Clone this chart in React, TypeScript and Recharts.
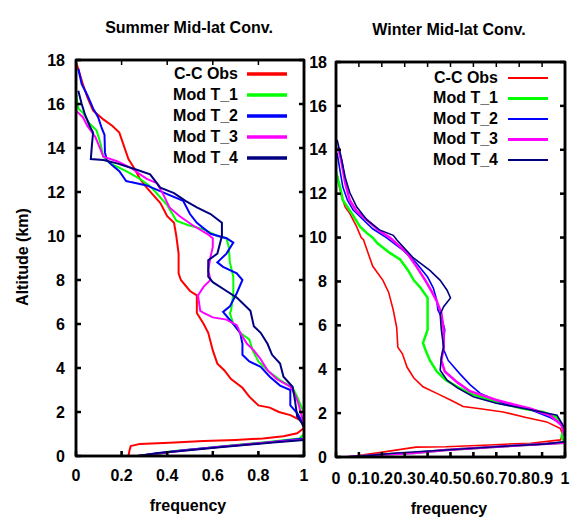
import React from 'react';
import { LineChart, Line, XAxis, YAxis, Legend } from 'recharts';

// ---------- data (frequency f vs altitude h in km) ----------
const seriesNames = ['C-C Obs', 'Mod T_1', 'Mod T_2', 'Mod T_3', 'Mod T_4'];
const seriesColors = ['#ff0000', '#00ff00', '#0000ff', '#ff00ff', '#000080'];

const summerFreqTicks = [0, 0.2, 0.4, 0.6, 0.8, 1];
const winterFreqTicks = [0, 0.1, 0.2, 0.3, 0.4, 0.5, 0.6, 0.7, 0.8, 0.9, 1];
const altitudeTicks = [0, 2, 4, 6, 8, 10, 12, 14, 16, 18];

const summerObs = [
  { f: 0.0, h: 17.9 }, { f: 0.01, h: 17.6 }, { f: 0.03, h: 16.9 }, { f: 0.05, h: 16.3 }, { f: 0.075, h: 15.7 },
  { f: 0.12, h: 15.3 }, { f: 0.16, h: 15.0 }, { f: 0.19, h: 14.7 }, { f: 0.21, h: 14.1 }, { f: 0.23, h: 13.5 },
  { f: 0.26, h: 13.0 }, { f: 0.28, h: 12.6 }, { f: 0.31, h: 12.2 }, { f: 0.37, h: 11.5 }, { f: 0.4, h: 10.9 },
  { f: 0.43, h: 10.6 }, { f: 0.44, h: 10.0 }, { f: 0.45, h: 9.2 }, { f: 0.45, h: 8.3 }, { f: 0.46, h: 8.0 },
  { f: 0.5, h: 7.5 }, { f: 0.53, h: 7.3 }, { f: 0.53, h: 6.5 }, { f: 0.56, h: 6.0 }, { f: 0.58, h: 5.6 },
  { f: 0.6, h: 4.8 }, { f: 0.62, h: 4.2 }, { f: 0.65, h: 3.9 }, { f: 0.68, h: 3.5 }, { f: 0.73, h: 3.1 },
  { f: 0.76, h: 2.7 }, { f: 0.8, h: 2.3 }, { f: 0.85, h: 2.2 }, { f: 0.89, h: 2.0 }, { f: 0.94, h: 1.86 },
  { f: 0.99, h: 1.6 }, { f: 1.0, h: 1.27 }, { f: 0.97, h: 1.03 }, { f: 0.91, h: 0.9 }, { f: 0.82, h: 0.8 },
  { f: 0.7, h: 0.73 }, { f: 0.56, h: 0.68 }, { f: 0.41, h: 0.6 }, { f: 0.28, h: 0.55 }, { f: 0.24, h: 0.45 },
  { f: 0.235, h: 0.27 }, { f: 0.23, h: 0.0 },
];
const summerT1 = [
  { f: 0.0, h: 16.5 }, { f: 0.01, h: 15.8 }, { f: 0.03, h: 15.6 }, { f: 0.06, h: 15.1 }, { f: 0.09, h: 14.8 },
  { f: 0.105, h: 14.3 }, { f: 0.12, h: 13.6 }, { f: 0.15, h: 13.3 }, { f: 0.22, h: 12.95 }, { f: 0.28, h: 12.6 },
  { f: 0.32, h: 12.3 }, { f: 0.34, h: 12.1 }, { f: 0.4, h: 11.4 }, { f: 0.44, h: 10.7 }, { f: 0.49, h: 10.5 },
  { f: 0.56, h: 10.3 }, { f: 0.62, h: 10.0 }, { f: 0.66, h: 9.9 }, { f: 0.67, h: 9.5 }, { f: 0.675, h: 8.8 },
  { f: 0.69, h: 8.15 }, { f: 0.69, h: 7.4 }, { f: 0.68, h: 6.6 }, { f: 0.675, h: 6.5 }, { f: 0.69, h: 6.0 },
  { f: 0.72, h: 5.6 }, { f: 0.76, h: 5.3 }, { f: 0.775, h: 4.8 }, { f: 0.8, h: 4.3 }, { f: 0.85, h: 3.8 },
  { f: 0.895, h: 3.45 }, { f: 0.95, h: 3.1 }, { f: 0.97, h: 2.7 }, { f: 0.99, h: 2.2 }, { f: 1.0, h: 1.95 },
  { f: 1.0, h: 1.0 }, { f: 0.98, h: 0.8 }, { f: 0.85, h: 0.65 }, { f: 0.7, h: 0.5 }, { f: 0.56, h: 0.35 },
  { f: 0.41, h: 0.2 }, { f: 0.37, h: 0.1 }, { f: 0.27, h: 0.0 },
];
const summerT2 = [
  { f: 0.01, h: 17.6 }, { f: 0.025, h: 16.9 }, { f: 0.05, h: 16.4 }, { f: 0.075, h: 15.8 }, { f: 0.097, h: 15.4 },
  { f: 0.113, h: 14.9 }, { f: 0.125, h: 14.6 }, { f: 0.127, h: 13.8 }, { f: 0.135, h: 13.45 }, { f: 0.16, h: 13.2 },
  { f: 0.19, h: 12.95 }, { f: 0.22, h: 12.5 }, { f: 0.24, h: 12.45 }, { f: 0.31, h: 12.3 }, { f: 0.4, h: 11.9 },
  { f: 0.47, h: 11.6 }, { f: 0.5, h: 11.0 }, { f: 0.53, h: 10.6 }, { f: 0.59, h: 10.1 }, { f: 0.66, h: 9.9 },
  { f: 0.69, h: 9.7 }, { f: 0.66, h: 9.2 }, { f: 0.62, h: 8.8 }, { f: 0.645, h: 8.6 }, { f: 0.705, h: 8.3 },
  { f: 0.73, h: 8.0 }, { f: 0.705, h: 7.4 }, { f: 0.675, h: 6.8 }, { f: 0.645, h: 6.55 }, { f: 0.69, h: 6.0 },
  { f: 0.72, h: 5.6 }, { f: 0.73, h: 5.1 }, { f: 0.73, h: 4.6 }, { f: 0.76, h: 4.3 }, { f: 0.81, h: 4.05 },
  { f: 0.85, h: 3.6 }, { f: 0.895, h: 3.2 }, { f: 0.94, h: 3.0 }, { f: 0.94, h: 2.3 }, { f: 0.97, h: 1.95 },
  { f: 0.99, h: 1.6 }, { f: 1.0, h: 1.3 }, { f: 1.0, h: 0.8 }, { f: 0.85, h: 0.62 }, { f: 0.63, h: 0.42 },
  { f: 0.46, h: 0.25 }, { f: 0.36, h: 0.12 }, { f: 0.27, h: 0.0 },
];
const summerT3 = [
  { f: 0.0, h: 15.7 }, { f: 0.03, h: 15.4 }, { f: 0.05, h: 15.0 }, { f: 0.085, h: 14.5 }, { f: 0.105, h: 14.0 },
  { f: 0.12, h: 13.6 }, { f: 0.18, h: 13.4 }, { f: 0.24, h: 13.1 }, { f: 0.31, h: 12.6 }, { f: 0.355, h: 12.4 },
  { f: 0.38, h: 11.95 }, { f: 0.41, h: 11.3 }, { f: 0.455, h: 10.9 }, { f: 0.51, h: 10.5 }, { f: 0.575, h: 10.1 },
  { f: 0.6, h: 9.9 }, { f: 0.6, h: 9.5 }, { f: 0.59, h: 9.05 }, { f: 0.58, h: 8.45 }, { f: 0.59, h: 8.0 },
  { f: 0.56, h: 7.7 }, { f: 0.535, h: 7.3 }, { f: 0.545, h: 6.6 }, { f: 0.56, h: 6.5 }, { f: 0.6, h: 6.3 },
  { f: 0.66, h: 6.2 }, { f: 0.705, h: 5.95 }, { f: 0.72, h: 5.6 }, { f: 0.75, h: 5.1 }, { f: 0.78, h: 4.8 },
  { f: 0.81, h: 4.4 }, { f: 0.84, h: 3.9 }, { f: 0.88, h: 3.5 }, { f: 0.94, h: 3.15 }, { f: 0.96, h: 2.8 },
  { f: 0.975, h: 2.4 }, { f: 0.99, h: 1.8 }, { f: 1.0, h: 1.4 }, { f: 1.0, h: 0.75 }, { f: 0.85, h: 0.62 },
  { f: 0.65, h: 0.43 }, { f: 0.47, h: 0.25 }, { f: 0.37, h: 0.12 }, { f: 0.27, h: 0.0 },
];
const summerT4 = [
  { f: 0.01, h: 16.6 }, { f: 0.025, h: 16.0 }, { f: 0.04, h: 15.5 }, { f: 0.06, h: 15.0 }, { f: 0.075, h: 14.7 },
  { f: 0.07, h: 14.15 }, { f: 0.065, h: 13.5 }, { f: 0.12, h: 13.45 }, { f: 0.18, h: 13.3 }, { f: 0.27, h: 13.0 },
  { f: 0.325, h: 12.8 }, { f: 0.37, h: 12.2 }, { f: 0.43, h: 11.95 }, { f: 0.48, h: 11.6 }, { f: 0.53, h: 11.3 },
  { f: 0.59, h: 11.0 }, { f: 0.64, h: 10.6 }, { f: 0.64, h: 10.0 }, { f: 0.62, h: 9.2 }, { f: 0.58, h: 8.9 },
  { f: 0.58, h: 8.15 }, { f: 0.6, h: 7.9 }, { f: 0.66, h: 7.5 }, { f: 0.705, h: 7.2 }, { f: 0.765, h: 6.6 },
  { f: 0.78, h: 5.9 }, { f: 0.81, h: 5.6 }, { f: 0.84, h: 5.1 }, { f: 0.86, h: 4.6 }, { f: 0.895, h: 4.2 },
  { f: 0.91, h: 3.6 }, { f: 0.95, h: 3.15 }, { f: 0.96, h: 2.55 }, { f: 0.97, h: 1.8 }, { f: 0.99, h: 1.5 },
  { f: 1.0, h: 1.3 }, { f: 1.0, h: 0.73 }, { f: 0.85, h: 0.6 }, { f: 0.63, h: 0.4 }, { f: 0.46, h: 0.23 },
  { f: 0.36, h: 0.14 }, { f: 0.27, h: 0.0 },
];

const winterObs = [
  { f: 0.005, h: 12.85 }, { f: 0.015, h: 12.3 }, { f: 0.025, h: 11.85 }, { f: 0.04, h: 11.4 }, { f: 0.06, h: 11.1 },
  { f: 0.09, h: 10.5 }, { f: 0.11, h: 10.0 }, { f: 0.12, h: 9.9 }, { f: 0.14, h: 9.3 }, { f: 0.16, h: 8.7 },
  { f: 0.205, h: 8.05 }, { f: 0.23, h: 7.5 }, { f: 0.25, h: 6.7 }, { f: 0.265, h: 5.9 }, { f: 0.27, h: 5.0 },
  { f: 0.29, h: 4.7 }, { f: 0.31, h: 4.1 }, { f: 0.34, h: 3.6 }, { f: 0.38, h: 3.2 }, { f: 0.44, h: 2.9 },
  { f: 0.5, h: 2.6 }, { f: 0.555, h: 2.3 }, { f: 0.63, h: 2.2 }, { f: 0.73, h: 2.05 }, { f: 0.83, h: 1.8 },
  { f: 0.92, h: 1.6 }, { f: 0.98, h: 1.3 }, { f: 0.99, h: 1.0 }, { f: 0.98, h: 0.78 }, { f: 0.85, h: 0.63 },
  { f: 0.67, h: 0.55 }, { f: 0.48, h: 0.47 }, { f: 0.35, h: 0.45 }, { f: 0.29, h: 0.36 }, { f: 0.19, h: 0.2 },
  { f: 0.12, h: 0.1 }, { f: 0.05, h: 0.0 },
];
const winterT1 = [
  { f: 0.0, h: 13.0 }, { f: 0.02, h: 12.2 }, { f: 0.03, h: 11.7 }, { f: 0.05, h: 11.4 }, { f: 0.075, h: 11.0 },
  { f: 0.105, h: 10.5 }, { f: 0.135, h: 10.2 }, { f: 0.16, h: 10.0 }, { f: 0.18, h: 9.75 }, { f: 0.235, h: 9.3 },
  { f: 0.28, h: 9.0 }, { f: 0.315, h: 8.5 }, { f: 0.34, h: 8.05 }, { f: 0.37, h: 7.7 }, { f: 0.4, h: 7.25 },
  { f: 0.4, h: 5.8 }, { f: 0.38, h: 5.2 }, { f: 0.39, h: 4.9 }, { f: 0.41, h: 4.4 }, { f: 0.44, h: 3.9 },
  { f: 0.48, h: 3.5 }, { f: 0.53, h: 3.2 }, { f: 0.585, h: 2.9 }, { f: 0.7, h: 2.5 }, { f: 0.82, h: 2.2 },
  { f: 0.905, h: 2.05 }, { f: 0.965, h: 1.8 }, { f: 0.995, h: 1.3 }, { f: 0.985, h: 0.9 }, { f: 1.0, h: 0.65 },
  { f: 0.92, h: 0.6 }, { f: 0.7, h: 0.47 }, { f: 0.48, h: 0.32 }, { f: 0.34, h: 0.18 }, { f: 0.19, h: 0.1 },
  { f: 0.06, h: 0.0 },
];
const winterT2 = [
  { f: 0.005, h: 13.85 }, { f: 0.02, h: 12.9 }, { f: 0.03, h: 12.3 }, { f: 0.05, h: 11.7 }, { f: 0.075, h: 11.25 },
  { f: 0.12, h: 10.8 }, { f: 0.16, h: 10.4 }, { f: 0.22, h: 10.0 }, { f: 0.295, h: 9.4 }, { f: 0.35, h: 8.85 },
  { f: 0.4, h: 8.2 }, { f: 0.425, h: 7.7 }, { f: 0.44, h: 7.15 }, { f: 0.445, h: 6.7 }, { f: 0.46, h: 6.4 },
  { f: 0.475, h: 5.8 }, { f: 0.47, h: 5.3 }, { f: 0.47, h: 4.9 }, { f: 0.49, h: 4.4 }, { f: 0.54, h: 3.8 },
  { f: 0.585, h: 3.3 }, { f: 0.63, h: 2.9 }, { f: 0.73, h: 2.45 }, { f: 0.85, h: 2.15 }, { f: 0.935, h: 1.8 },
  { f: 0.98, h: 1.55 }, { f: 1.0, h: 1.1 }, { f: 1.0, h: 0.65 }, { f: 0.92, h: 0.6 }, { f: 0.7, h: 0.47 },
  { f: 0.48, h: 0.32 }, { f: 0.34, h: 0.18 }, { f: 0.19, h: 0.1 }, { f: 0.05, h: 0.0 },
];
const winterT3 = [
  { f: 0.01, h: 14.1 }, { f: 0.025, h: 13.4 }, { f: 0.04, h: 12.5 }, { f: 0.06, h: 11.7 }, { f: 0.09, h: 11.2 },
  { f: 0.135, h: 10.8 }, { f: 0.19, h: 10.3 }, { f: 0.235, h: 10.0 }, { f: 0.31, h: 9.3 }, { f: 0.35, h: 8.7 },
  { f: 0.39, h: 8.05 }, { f: 0.42, h: 7.5 }, { f: 0.44, h: 7.1 }, { f: 0.46, h: 6.55 }, { f: 0.47, h: 5.8 },
  { f: 0.47, h: 5.0 }, { f: 0.46, h: 4.4 }, { f: 0.475, h: 3.9 }, { f: 0.53, h: 3.4 }, { f: 0.585, h: 3.0 },
  { f: 0.7, h: 2.6 }, { f: 0.85, h: 2.2 }, { f: 0.935, h: 1.9 }, { f: 0.985, h: 1.45 }, { f: 1.0, h: 0.9 },
  { f: 1.0, h: 0.65 }, { f: 0.92, h: 0.6 }, { f: 0.7, h: 0.47 }, { f: 0.48, h: 0.32 }, { f: 0.34, h: 0.18 },
  { f: 0.19, h: 0.1 }, { f: 0.05, h: 0.0 },
];
const winterT4 = [
  { f: 0.005, h: 14.45 }, { f: 0.025, h: 13.55 }, { f: 0.04, h: 12.75 }, { f: 0.06, h: 12.05 }, { f: 0.09, h: 11.4 },
  { f: 0.135, h: 10.8 }, { f: 0.19, h: 10.35 }, { f: 0.25, h: 10.1 }, { f: 0.265, h: 9.9 }, { f: 0.335, h: 9.1 },
  { f: 0.41, h: 8.5 }, { f: 0.455, h: 8.05 }, { f: 0.485, h: 7.6 }, { f: 0.5, h: 7.25 }, { f: 0.47, h: 6.85 },
  { f: 0.455, h: 6.5 }, { f: 0.46, h: 5.8 }, { f: 0.47, h: 5.0 }, { f: 0.46, h: 4.55 }, { f: 0.455, h: 3.95 },
  { f: 0.485, h: 3.5 }, { f: 0.53, h: 3.15 }, { f: 0.6, h: 2.75 }, { f: 0.7, h: 2.45 }, { f: 0.85, h: 2.15 },
  { f: 0.965, h: 1.9 }, { f: 1.0, h: 1.3 }, { f: 1.0, h: 0.7 }, { f: 0.92, h: 0.6 }, { f: 0.7, h: 0.47 },
  { f: 0.48, h: 0.32 }, { f: 0.265, h: 0.18 }, { f: 0.12, h: 0.05 }, { f: 0.04, h: 0.0 },
];

// ---------- styling ----------
const FONT = '"Liberation Sans", Arial, Helvetica, sans-serif';
const tickStyle = { fill: '#000', fontSize: 16, fontWeight: 'bold', fontFamily: FONT };
const FRAME_W = 2.5;
const TICK_LEN = 5;
const blankTick = () => '';

const summerData = [summerObs, summerT1, summerT2, summerT3, summerT4];
const winterData = [winterObs, winterT1, winterT2, winterT3, winterT4];
const summerWidths = [2, 2, 2, 2, 2];
const summerLegendWidths = [3.5, 3.5, 3.5, 3.5, 3.5];
const winterWidths = [1.6, 2.5, 1.6, 2.5, 1.6];
const winterLegendWidths = [2, 3, 2, 3, 2];

// Panel layout (chart size and margins); the plot box is derived from them.
const CHART_H = 519;
const X_AXIS_H = 30;
const summerLayout = { left: 0, width: 310, yAxisWidth: 76, margin: { top: 59, right: 5, bottom: 33, left: 0 } };
const winterLayout = { left: 310, width: 264, yAxisWidth: 26, margin: { top: 61, right: 8, bottom: 32, left: 0 } };

function plotBox(layout) {
  const m = layout.margin;
  return {
    x0: layout.left + m.left + layout.yAxisWidth,
    x1: layout.left + layout.width - m.right - 1,
    y0: m.top + 1,
    y1: CHART_H - m.bottom - X_AXIS_H,
  };
}

function makeLegend(textEnd, lineX1, lineX2, rowY, legendWidths) {
  return (props) => {
    const payload = props.payload || [];
    return (
      <svg width={160} height={120} style={{ overflow: 'visible', display: 'block' }}>
        {payload.map((p, i) => {
          const idx = seriesNames.indexOf(p.value);
          const y = rowY[i];
          return (
            <g key={p.value}>
              <text x={textEnd} y={y} dy="0.36em" textAnchor="end" fontFamily={FONT} fontSize={16} fontWeight="bold" fill="#000">{p.value}</text>
              <line x1={lineX1} x2={lineX2} y1={y + 1} y2={y + 1} stroke={p.color} strokeWidth={legendWidths[idx]} />
            </g>
          );
        })}
      </svg>
    );
  };
}

function Panel({ layout, freqTicks, data, widths, legend, legendPos, xTickMargin, yTickMargin }) {
  return (
    <LineChart width={layout.width} height={CHART_H} margin={layout.margin}>
      <XAxis type="number" dataKey="f" domain={[0, 1]} allowDataOverflow ticks={freqTicks} interval={0}
        stroke="#000" strokeWidth={FRAME_W} tick={tickStyle} tickSize={-TICK_LEN} tickMargin={xTickMargin} height={X_AXIS_H} />
      <XAxis xAxisId="top" orientation="top" type="number" domain={[0, 1]} allowDataOverflow ticks={freqTicks} interval={0}
        stroke="#000" strokeWidth={FRAME_W} tickFormatter={blankTick} tickSize={-TICK_LEN} height={1} />
      <YAxis type="number" domain={[0, 18]} allowDataOverflow ticks={altitudeTicks} interval={0}
        stroke="#000" strokeWidth={FRAME_W} tick={tickStyle} tickSize={-TICK_LEN} tickMargin={yTickMargin} width={layout.yAxisWidth} />
      <YAxis yAxisId="right" orientation="right" type="number" domain={[0, 18]} allowDataOverflow ticks={altitudeTicks} interval={0}
        stroke="#000" strokeWidth={FRAME_W} tickFormatter={blankTick} tickSize={-TICK_LEN} width={1} />
      <Legend layout="vertical" align="center" verticalAlign="middle" content={legend}
        wrapperStyle={{ position: 'absolute', left: legendPos.left, top: legendPos.top, width: 160, height: 120 }} />
      {seriesNames.map((name, i) => (
        <Line key={name} name={name} data={data[i]} dataKey="h" stroke={seriesColors[i]}
          strokeWidth={widths[i]} dot={false} activeDot={false} legendType="line" isAnimationActive={false} />
      ))}
    </LineChart>
  );
}

// Frame with inward ticks on all four sides, derived from the panel's plot box and tick lists.
function Frame({ layout, freqTicks }) {
  const b = plotBox(layout);
  const fx = (f) => b.x0 + f * (b.x1 - b.x0);
  const hy = (h) => b.y1 - (h / 18) * (b.y1 - b.y0);
  return (
    <g stroke="#000" fill="none">
      <rect x={b.x0} y={b.y0} width={b.x1 - b.x0} height={b.y1 - b.y0} strokeWidth={FRAME_W} />
      {freqTicks.map((f) => (
        <g key={'f' + f} strokeWidth={1.5}>
          <line x1={fx(f)} x2={fx(f)} y1={b.y1} y2={b.y1 - TICK_LEN} />
          <line x1={fx(f)} x2={fx(f)} y1={b.y0} y2={b.y0 + TICK_LEN} />
        </g>
      ))}
      {altitudeTicks.map((h) => (
        <g key={'h' + h} strokeWidth={1.5}>
          <line x1={b.x0} x2={b.x0 + TICK_LEN} y1={hy(h)} y2={hy(h)} />
          <line x1={b.x1} x2={b.x1 - TICK_LEN} y1={hy(h)} y2={hy(h)} />
        </g>
      ))}
    </g>
  );
}

export default function App() {
  return (
    <div style={{ position: 'absolute', left: 0, top: 0, width: 574, height: 519, background: '#fff' }}>
      <div style={{ position: 'absolute', left: summerLayout.left, top: 0 }}>
        <Panel layout={summerLayout} freqTicks={summerFreqTicks} data={summerData} widths={summerWidths}
          legend={makeLegend(88, 97, 137, [13, 34, 55, 76, 97], summerLegendWidths)} legendPos={{ left: 150, top: 60 }}
          xTickMargin={19} yTickMargin={16} />
      </div>
      <div style={{ position: 'absolute', left: winterLayout.left, top: 0 }}>
        <Panel layout={winterLayout} freqTicks={winterFreqTicks} data={winterData} widths={winterWidths}
          legend={makeLegend(88, 98, 138, [15, 35.5, 56, 76.5, 97], winterLegendWidths)} legendPos={{ left: 100, top: 62 }}
          xTickMargin={21} yTickMargin={14} />
      </div>
      <svg width={574} height={519} style={{ position: 'absolute', left: 0, top: 0, pointerEvents: 'none' }}>
        <Frame layout={summerLayout} freqTicks={summerFreqTicks} />
        <Frame layout={winterLayout} freqTicks={winterFreqTicks} />
        <g fontFamily={FONT} fontSize={16} fontWeight="bold" fill="#000">
          <text x={189} y={33} textAnchor="middle">Summer Mid-lat Conv.</text>
          <text x={449} y={35} textAnchor="middle">Winter Mid-lat Conv.</text>
          <text x={188} y={511} textAnchor="middle">frequency</text>
          <text x={449} y={514} textAnchor="middle">frequency</text>
          <text x={0} y={0} textAnchor="middle" transform="translate(28,257) rotate(-90)">Altitude (km)</text>
        </g>
      </svg>
    </div>
  );
}
